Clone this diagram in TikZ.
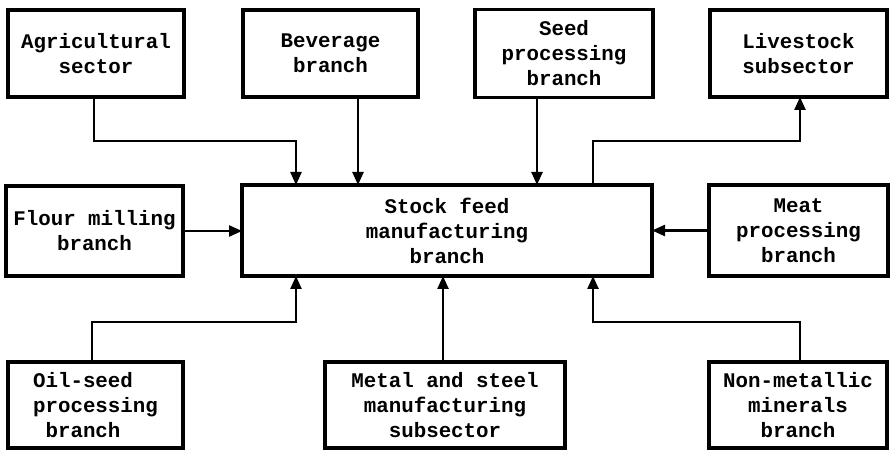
\documentclass[tikz,border=0pt]{standalone}
\usepackage{fontspec}
\newfontfamily\typewriter{Liberation Mono}
\usetikzlibrary{arrows.meta}
\begin{document}
\begin{tikzpicture}[x=1pt,y=1pt,
  unit/.style={draw,line width=3.3pt,inner sep=0pt,outer sep=0pt,
    align=center,font=\typewriter\bfseries\fontsize{20.8}{25}\selectfont},
  flow/.style={line width=2.4pt,-{Triangle[length=13pt,width=11pt]}}]
\useasboundingbox (0,0) rectangle (894,450);
\fill[white] (0,0) rectangle (894,450);

% top row
\node[unit,minimum width=176,minimum height=87] (agr) at (96,396.5) {Agricultural\\sector};
\node[unit,minimum width=175,minimum height=87] (bev) at (330.5,396.5) {Beverage\\branch};
\node[unit,minimum width=178,minimum height=88] (seed) at (564,396.5) {Seed\\processing\\branch};
\node[unit,minimum width=177,minimum height=87] (live) at (798.5,396.5) {Livestock\\subsector};

% middle row
\node[unit,minimum width=177,minimum height=90] (flour) at (94.5,219) {Flour milling\\branch};
\node[unit,minimum width=410,minimum height=91] (core) at (447,219.5) {Stock feed\\manufacturing\\branch};
\node[unit,minimum width=179,minimum height=91] (meat) at (798.5,219.5) {Meat\\processing\\branch};

% bottom row
\node[unit,minimum width=175,minimum height=86,align=left] (oil) at (95.5,45) {Oil-seed\\processing\\\phantom{x}branch};
\node[unit,minimum width=240,minimum height=86] (metal) at (445,45) {Metal and steel\\manufacturing\\subsector};
\node[unit,minimum width=178,minimum height=86] (nonmet) at (798,45) {Non-metallic\\minerals\\branch};

% junction points of the elbow connectors
\coordinate (jagr) at (296,309);
\coordinate (jlive) at (593,309);
\coordinate (joil) at (296,128);
\coordinate (jnon) at (593,128);

% inputs from above
\draw[flow] ([xshift=-2pt]agr.south) |- (jagr) -- (jagr |- core.north);
\draw[flow] ([xshift=27.5pt]bev.south) -- ([xshift=27.5pt]bev.south |- core.north);
\draw[flow] ([xshift=-27pt]seed.south) -- ([xshift=-27pt]seed.south |- core.north);

% output to livestock
\draw[flow] (jlive |- core.north) -- (jlive) -| ([xshift=1.5pt]live.south);

% side inputs
\draw[flow] (flour.east) -- (flour.east -| core.west);
\draw[flow] (meat.west) -- (meat.west -| core.east);

% inputs from below
\draw[flow] ([xshift=-3.5pt]oil.north) |- (joil) -- (joil |- core.south);
\draw[flow] ([xshift=-2pt]metal.north) -- ([xshift=-2pt]metal.north |- core.south);
\draw[flow] ([xshift=2pt]nonmet.north) |- (jnon) -- (jnon |- core.south);
\end{tikzpicture}
\end{document}
